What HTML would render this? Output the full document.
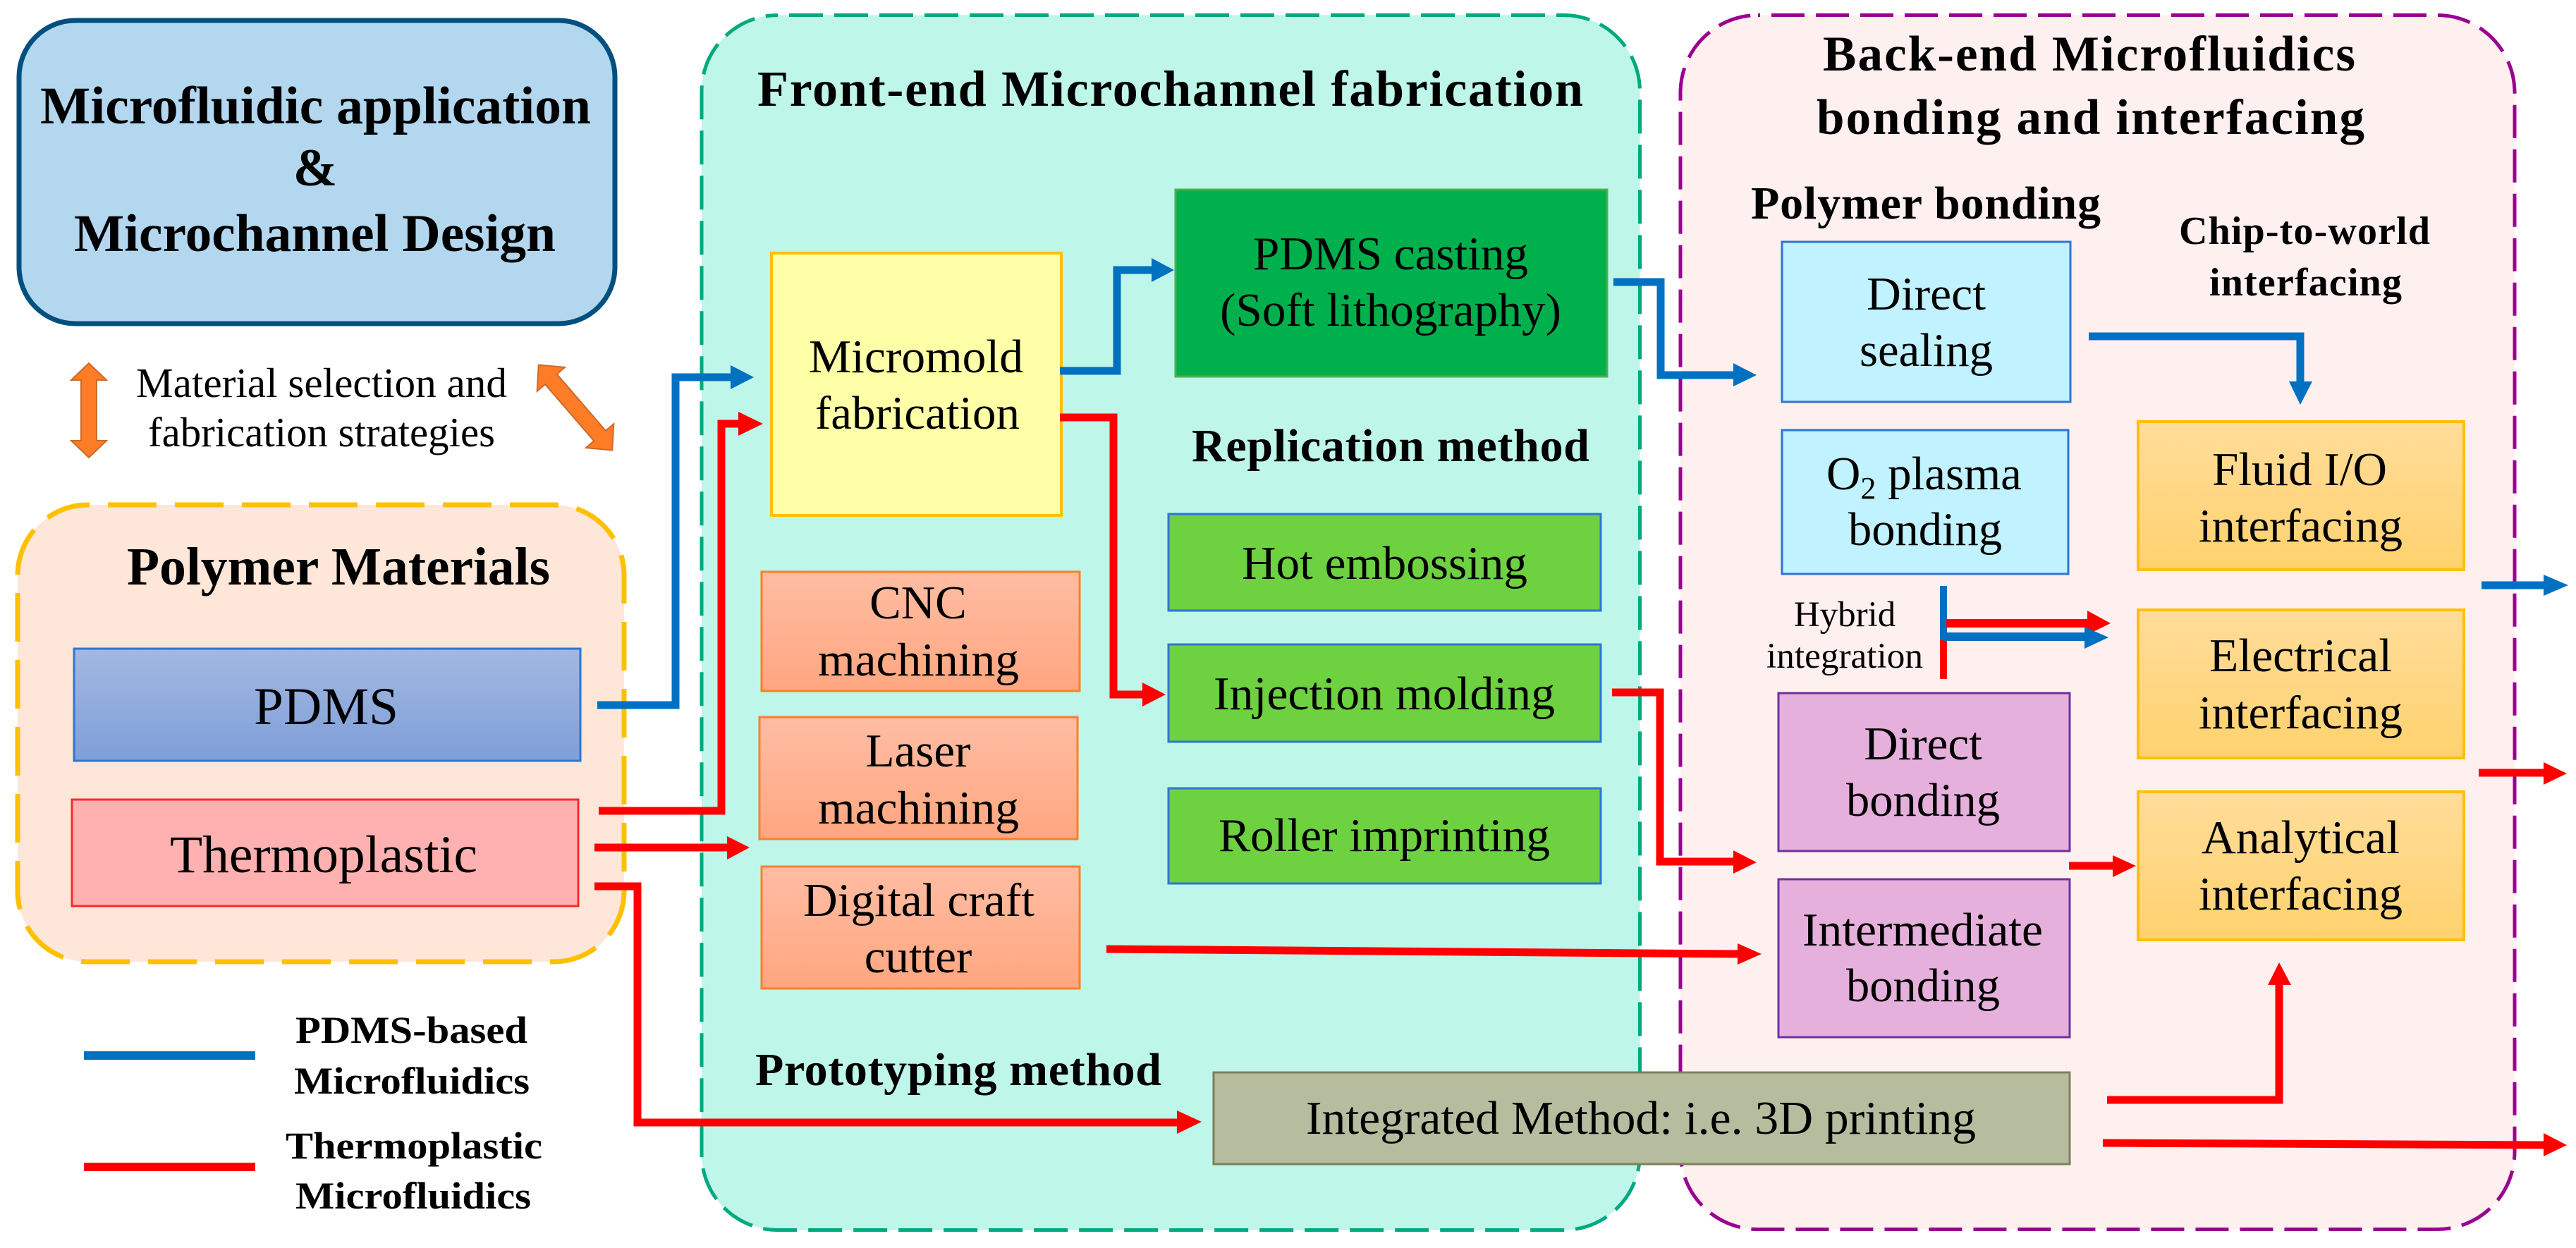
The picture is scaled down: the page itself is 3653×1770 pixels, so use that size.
<!DOCTYPE html>
<html>
<head>
<meta charset="utf-8">
<style>
html,body{margin:0;padding:0;background:#fff;width:3653px;height:1770px;overflow:hidden}
svg{display:block}
text{font-family:"Liberation Serif",serif;fill:#000}
.r{font-size:67px}
.b{font-weight:bold;font-size:72px}
.h{font-weight:bold;font-size:66px}
.l{font-weight:bold;font-size:54px}
.ln{fill:none;stroke-width:11;stroke-linejoin:miter}
.bl{stroke:#0070C0}.rd{stroke:#FF0000}
.fb{fill:#0070C0}.fr{fill:#FF0000}
</style>
</head>
<body>
<svg width="3653" height="1770" viewBox="0 0 3653 1770" xmlns="http://www.w3.org/2000/svg">
<defs>
<linearGradient id="gP" x1="0" y1="0" x2="0" y2="1"><stop offset="0" stop-color="#A3B8E2"/><stop offset="1" stop-color="#7E9FD9"/></linearGradient>
<linearGradient id="gO" x1="0" y1="0" x2="0" y2="1"><stop offset="0" stop-color="#FFBDA3"/><stop offset="1" stop-color="#FFA680"/></linearGradient>
<linearGradient id="gY" x1="0" y1="0" x2="0" y2="1"><stop offset="0" stop-color="#FFDC9A"/><stop offset="1" stop-color="#FFD26E"/></linearGradient>
</defs>
<rect width="3653" height="1770" fill="#fff"/>

<!-- panels -->
<rect x="27" y="29" width="845" height="430" rx="80" ry="80" fill="#B3D7EF" stroke="#00507F" stroke-width="7"/>
<rect x="25" y="716" width="860" height="648" rx="100" ry="100" fill="#FEE7D9" stroke="#FFC000" stroke-width="7" stroke-dasharray="69 26" stroke-dashoffset="-28"/>
<rect x="995" y="21.5" width="1330.5" height="1723" rx="108" ry="108" fill="#BEF6E9" stroke="#00A97F" stroke-width="5" stroke-dasharray="48 16" stroke-dashoffset="-16"/>
<rect x="2383" y="21.5" width="1183" height="1722" rx="110" ry="110" fill="#FFF0F0" stroke="#990090" stroke-width="5" stroke-dasharray="47 16" stroke-dashoffset="-19"/>

<!-- top-left text -->
<text class="b" style="font-size:75px" x="57" y="175" textLength="781" lengthAdjust="spacingAndGlyphs">Microfluidic application</text>
<text class="b" style="font-size:75px" x="447" y="263" text-anchor="middle">&amp;</text>
<text class="b" style="font-size:75px" x="105" y="356" textLength="683" lengthAdjust="spacingAndGlyphs">Microchannel Design</text>
<text style="font-size:59px" x="193" y="563" textLength="526" lengthAdjust="spacingAndGlyphs">Material selection and</text>
<text style="font-size:59px" x="210" y="633" textLength="492" lengthAdjust="spacingAndGlyphs">fabrication strategies</text>

<!-- orange arrows -->
<polygon points="126,515 151,539 137,539 137,625 151,625 126,649 101,625 115,625 115,539 101,539" fill="#FF7C26" stroke="#CC6A2C" stroke-width="2"/>
<polygon transform="translate(816 578) rotate(-40.8)" points="0,-80 26,-53 11,-53 11,53 26,53 0,80 -26,53 -11,53 -11,-53 -26,-53" fill="#FF7C26" stroke="#CC6A2C" stroke-width="2"/>

<!-- polymer -->
<text class="b" style="font-size:76px" x="180" y="829" textLength="600" lengthAdjust="spacingAndGlyphs">Polymer Materials</text>
<rect x="105" y="920" width="718" height="159" fill="url(#gP)" stroke="#2E75D0" stroke-width="3"/>
<text style="font-size:75px" x="360" y="1027" textLength="205" lengthAdjust="spacingAndGlyphs">PDMS</text>
<rect x="102" y="1134" width="718" height="151" fill="#FFB0B0" stroke="#FF2A2A" stroke-width="3"/>
<text style="font-size:75px" x="241" y="1237" textLength="436" lengthAdjust="spacingAndGlyphs">Thermoplastic</text>

<!-- legend -->
<rect x="119" y="1491" width="243" height="12" fill="#0070C0"/>
<rect x="119" y="1649" width="243" height="12" fill="#FF0000"/>
<text class="l" x="419" y="1479" textLength="329" lengthAdjust="spacingAndGlyphs">PDMS-based</text>
<text class="l" x="417" y="1551" textLength="334" lengthAdjust="spacingAndGlyphs">Microfluidics</text>
<text class="l" x="405" y="1643" textLength="364" lengthAdjust="spacingAndGlyphs">Thermoplastic</text>
<text class="l" x="419" y="1714" textLength="334" lengthAdjust="spacingAndGlyphs">Microfluidics</text>

<!-- front end -->
<text class="b" x="1074" y="150" textLength="1171">Front-end Microchannel fabrication</text>
<rect x="1094" y="359" width="411" height="372" fill="#FFFFA8" stroke="#FFC000" stroke-width="4"/>
<text class="r" x="1147" y="528" textLength="304" lengthAdjust="spacingAndGlyphs">Micromold</text>
<text class="r" x="1156" y="608" textLength="290" lengthAdjust="spacingAndGlyphs">fabrication</text>
<rect x="1667" y="269" width="612" height="265" fill="#00B04C" stroke="#4CAF50" stroke-width="3"/>
<text class="r" x="1777" y="382" textLength="390" lengthAdjust="spacingAndGlyphs">PDMS casting</text>
<text class="r" x="1730" y="462" textLength="484" lengthAdjust="spacingAndGlyphs">(Soft lithography)</text>
<text class="h" x="1690" y="654" textLength="564">Replication method</text>

<rect x="1657" y="729" width="613" height="137" fill="#6DD140" stroke="#2E75D0" stroke-width="3"/>
<text class="r" x="1761" y="821" textLength="405" lengthAdjust="spacingAndGlyphs">Hot embossing</text>
<rect x="1657" y="914" width="613" height="138" fill="#6DD140" stroke="#2E75D0" stroke-width="3"/>
<text class="r" x="1721" y="1006" textLength="484" lengthAdjust="spacingAndGlyphs">Injection molding</text>
<rect x="1657" y="1118" width="613" height="135" fill="#6DD140" stroke="#2E75D0" stroke-width="3"/>
<text class="r" x="1728" y="1207" textLength="470" lengthAdjust="spacingAndGlyphs">Roller imprinting</text>

<rect x="1080" y="811" width="451" height="169" fill="url(#gO)" stroke="#FF7F27" stroke-width="3"/>
<text class="r" x="1302" y="877" text-anchor="middle">CNC</text>
<text class="r" x="1160" y="958" textLength="285" lengthAdjust="spacingAndGlyphs">machining</text>
<rect x="1077" y="1017" width="451" height="173" fill="url(#gO)" stroke="#FF7F27" stroke-width="3"/>
<text class="r" x="1302" y="1087" text-anchor="middle">Laser</text>
<text class="r" x="1160" y="1168" textLength="285" lengthAdjust="spacingAndGlyphs">machining</text>
<rect x="1080" y="1229" width="451" height="173" fill="url(#gO)" stroke="#FF7F27" stroke-width="3"/>
<text class="r" x="1139" y="1299" textLength="328" lengthAdjust="spacingAndGlyphs">Digital craft</text>
<text class="r" x="1302" y="1379" text-anchor="middle">cutter</text>
<text class="h" x="1071" y="1539" textLength="576">Prototyping method</text>

<!-- back end -->
<text class="b" style="font-size:71px" x="2585" y="100" textLength="755">Back-end Microfluidics</text>
<text class="b" style="font-size:71px" x="2576" y="190" textLength="777">bonding and interfacing</text>
<text class="h" x="2483" y="310" textLength="496">Polymer bonding</text>
<text style="font-size:56px;font-weight:bold" x="3090" y="346" textLength="356">Chip-to-world</text>
<text style="font-size:56px;font-weight:bold" x="3133" y="419" textLength="273">interfacing</text>

<rect x="2527" y="343" width="409" height="227" fill="#C0F2FF" stroke="#2E75D0" stroke-width="3"/>
<text class="r" x="2647" y="439" textLength="169" lengthAdjust="spacingAndGlyphs">Direct</text>
<text class="r" x="2637" y="519" textLength="189" lengthAdjust="spacingAndGlyphs">sealing</text>
<rect x="2527" y="610" width="406" height="204" fill="#C0F2FF" stroke="#2E75D0" stroke-width="3"/>
<text class="r" x="2590" y="694">O<tspan font-size="44" dy="13">2</tspan><tspan dy="-13"> plasma</tspan></text>
<text class="r" x="2621" y="773" textLength="218" lengthAdjust="spacingAndGlyphs">bonding</text>

<text style="font-size:51px" x="2616" y="888" text-anchor="middle">Hybrid</text>
<text style="font-size:51px" x="2505" y="947" textLength="222" lengthAdjust="spacingAndGlyphs">integration</text>

<rect x="2522" y="983" width="413" height="224" fill="#E6B0DC" stroke="#7030A0" stroke-width="3"/>
<text class="r" x="2727" y="1077" text-anchor="middle">Direct</text>
<text class="r" x="2618" y="1157" textLength="218" lengthAdjust="spacingAndGlyphs">bonding</text>
<rect x="2522" y="1247" width="413" height="224" fill="#E6B0DC" stroke="#7030A0" stroke-width="3"/>
<text class="r" x="2556" y="1341" textLength="341" lengthAdjust="spacingAndGlyphs">Intermediate</text>
<text class="r" x="2618" y="1420" textLength="218" lengthAdjust="spacingAndGlyphs">bonding</text>

<rect x="3032" y="598" width="462" height="210" fill="url(#gY)" stroke="#FFC000" stroke-width="4"/>
<text class="r" x="3137" y="688" textLength="248" lengthAdjust="spacingAndGlyphs">Fluid I/O</text>
<text class="r" x="3118" y="768" textLength="289" lengthAdjust="spacingAndGlyphs">interfacing</text>
<rect x="3032" y="865" width="462" height="210" fill="url(#gY)" stroke="#FFC000" stroke-width="4"/>
<text class="r" x="3133" y="952" textLength="259" lengthAdjust="spacingAndGlyphs">Electrical</text>
<text class="r" x="3118" y="1033" textLength="289" lengthAdjust="spacingAndGlyphs">interfacing</text>
<rect x="3032" y="1123" width="462" height="210" fill="url(#gY)" stroke="#FFC000" stroke-width="4"/>
<text class="r" x="3122" y="1210" textLength="281" lengthAdjust="spacingAndGlyphs">Analytical</text>
<text class="r" x="3118" y="1290" textLength="289" lengthAdjust="spacingAndGlyphs">interfacing</text>

<rect x="1721" y="1521" width="1214" height="130" fill="#B6BD9F" stroke="#7F7F5A" stroke-width="3"/>
<text class="r" x="1852" y="1608" textLength="950" lengthAdjust="spacingAndGlyphs">Integrated Method: i.e. 3D printing</text>

<!-- connectors -->
<polyline class="ln bl" points="847,1000 958,1000 958,535 1040,535"/><polygon class="fb" points="1036,518 1069,535 1036,552"/>
<polyline class="ln rd" points="849,1150 1023,1150 1023,601 1050,601"/><polygon class="fr" points="1047,584 1082,601 1047,618"/>
<polyline class="ln rd" points="843,1202 1035,1202"/><polygon class="fr" points="1031,1186 1063,1202 1031,1219"/>
<polyline class="ln rd" points="843,1257 904,1257 904,1592 1673,1592"/><polygon class="fr" points="1669,1575 1704,1591 1669,1608"/>

<polyline class="ln bl" points="1503,526 1584,526 1584,383 1637,383"/><polygon class="fb" points="1633,366 1665,383 1633,400"/>
<polyline class="ln rd" points="1503,592 1579,592 1579,985 1624,985"/><polygon class="fr" points="1620,968 1653,985 1620,1002"/>
<polyline class="ln bl" points="2288,400 2355,400 2355,532 2462,532"/><polygon class="fb" points="2458,515 2491,532 2458,548"/>
<polyline class="ln rd" points="2286,982 2354,982 2354,1222 2462,1222"/><polygon class="fr" points="2458,1206 2491,1223 2458,1239"/>
<polyline class="ln rd" points="1569,1346 2468,1353"/><polygon class="fr" points="2464,1338 2498,1353 2464,1368"/>

<polyline class="ln bl" points="2962,477 3262,477 3262,545"/><polygon class="fb" points="3246,541 3279,541 3262,574"/>

<line x1="2756" y1="908" x2="2756" y2="963" stroke="#FF0000" stroke-width="10"/>
<line x1="2756" y1="831" x2="2756" y2="908" stroke="#0070C0" stroke-width="10"/>
<polyline class="ln rd" style="stroke-width:12" points="2760,884 2964,884"/><polygon class="fr" points="2960,866 2993,884 2960,900"/>
<polyline class="ln bl" style="stroke-width:12" points="2756,903 2960,903"/><polygon class="fb" points="2956,889 2990,904 2956,920"/>

<polyline class="ln bl" points="3519,830 3611,830"/><polygon class="fb" points="3607,815 3642,830 3607,845"/>
<polyline class="ln rd" points="3515,1096 3611,1096"/><polygon class="fr" points="3607,1081 3640,1097 3607,1113"/>
<polyline class="ln rd" points="2934,1228 3000,1228"/><polygon class="fr" points="2996,1213 3029,1228 2996,1244"/>
<polyline class="ln rd" points="2988,1560 3232,1560 3232,1393"/><polygon class="fr" points="3216,1397 3232,1365 3249,1397"/>
<polyline class="ln rd" points="2982,1621 3611,1624"/><polygon class="fr" points="3607,1607 3640,1624 3607,1640"/>
</svg>
</body>
</html>
